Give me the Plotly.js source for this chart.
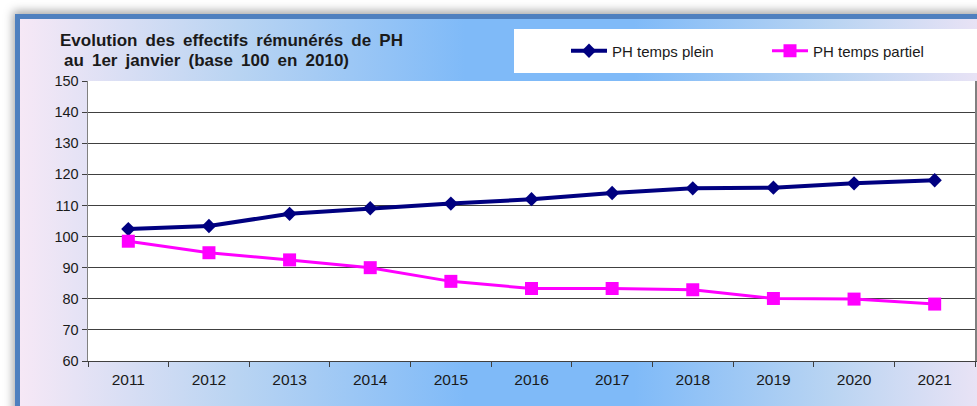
<!DOCTYPE html>
<html>
<head>
<meta charset="utf-8">
<script src="https://cdn.plot.ly/plotly-3.0.1.min.js"></script>
<style>
  html, body { margin: 0; padding: 0; width: 977px; height: 406px; overflow: hidden; background: #ffffff; }
  #card {
    position: absolute; left: 15px; top: 14px; width: 990px; height: 420px;
    border-top: 5px solid #4f80bf; border-left: 5px solid #4f80bf;
    background: linear-gradient(to right, #f6e8f6 0%, #b9d4f2 22%, #7fbaf8 45%, #7fbaf8 62%, #b9d4f2 82%, #f3e6f6 100%);
    box-shadow: -2px -3px 9px rgba(0,0,0,0.35);
  }
  #legbox { position: absolute; left: 514px; top: 29px; width: 470px; height: 44px; background: #ffffff; }
  #chart { position: absolute; left: 0; top: 0; width: 977px; height: 406px; }
</style>
</head>
<body>
<div id="card"></div>
<div id="legbox"></div>
<div id="chart"></div>
<script>
const years = ['2011','2012','2013','2014','2015','2016','2017','2018','2019','2020','2021'];
const tempsPlein = [102.4, 103.4, 107.3, 109.1, 110.6, 112.0, 114.0, 115.5, 115.7, 117.1, 118.1];
const tempsPartiel = [98.5, 94.8, 92.5, 90.0, 85.6, 83.3, 83.3, 82.9, 80.1, 79.9, 78.3];
const seriesNames = ['PH temps plein', 'PH temps partiel'];
const titleLines = ['Evolution des effectifs rémunérés de PH', 'au 1er janvier (base 100 en 2010)'];

// slightly wider word spacing, as in the original
const spaced = s => s.split(' ').join(' \u2009');

const traces = [
  { x: years, y: tempsPlein, name: seriesNames[0], type: 'scatter', mode: 'lines+markers',
    line: { color: '#000080', width: 4 }, marker: { symbol: 'diamond', size: 11, color: '#000080' } },
  { x: years, y: tempsPartiel, name: seriesNames[1], type: 'scatter', mode: 'lines+markers',
    line: { color: '#ff00ff', width: 3 }, marker: { symbol: 'square', size: 13, color: '#ff00ff' } }
];

const W = 887, H = 280, L = 88, B = 361;
const layout = {
  width: 977, height: 406,
  margin: { l: 88, r: 2, t: 81, b: 45, pad: 0, autoexpand: false },
  paper_bgcolor: 'rgba(0,0,0,0)',
  plot_bgcolor: '#ffffff',
  font: { family: 'Liberation Sans, Arial, sans-serif', color: '#1a1a1a' },
  annotations: [
    { text: spaced(titleLines[0]), xref: 'paper', yref: 'paper', x: (58 - L) / W, y: (B - 40) / H,
      xanchor: 'left', yanchor: 'middle', showarrow: false, font: { size: 17, weight: 'bold', color: '#1a1a1a' } },
    { text: spaced(titleLines[1]), xref: 'paper', yref: 'paper', x: (62 - L) / W, y: (B - 60) / H,
      xanchor: 'left', yanchor: 'middle', showarrow: false, font: { size: 17, weight: 'bold', color: '#1a1a1a' } }
  ],
  xaxis: {
    type: 'category', range: [-0.5, 10.5], tickson: 'boundaries',
    ticks: 'outside', ticklen: 5, tickcolor: '#404040', ticklabelstandoff: 4,
    showline: true, linecolor: '#404040', linewidth: 1,
    showgrid: false, tickfont: { size: 15.5, color: '#1a1a1a' }, fixedrange: true
  },
  yaxis: {
    range: [60, 150], dtick: 10, tick0: 60,
    ticks: 'outside', ticklen: 5, tickcolor: '#404040',
    showline: true, mirror: true, linecolor: '#808080', linewidth: 1.5,
    showgrid: true, gridcolor: '#404040', gridwidth: 1,
    zeroline: false, tickfont: { size: 14.5, color: '#1a1a1a' }, fixedrange: true
  },
  showlegend: true,
  legend: {
    orientation: 'h', xref: 'container', yref: 'container',
    x: 566 / 977, xanchor: 'left', y: 1 - 51 / 406, yanchor: 'middle',
    bgcolor: 'rgba(0,0,0,0)', font: { size: 15, color: '#1a1a1a' },
    itemwidth: 36, entrywidth: 150, entrywidthmode: 'pixels'
  }
};

Plotly.newPlot('chart', traces, layout, { displayModeBar: false, staticPlot: true });
</script>
</body>
</html>
